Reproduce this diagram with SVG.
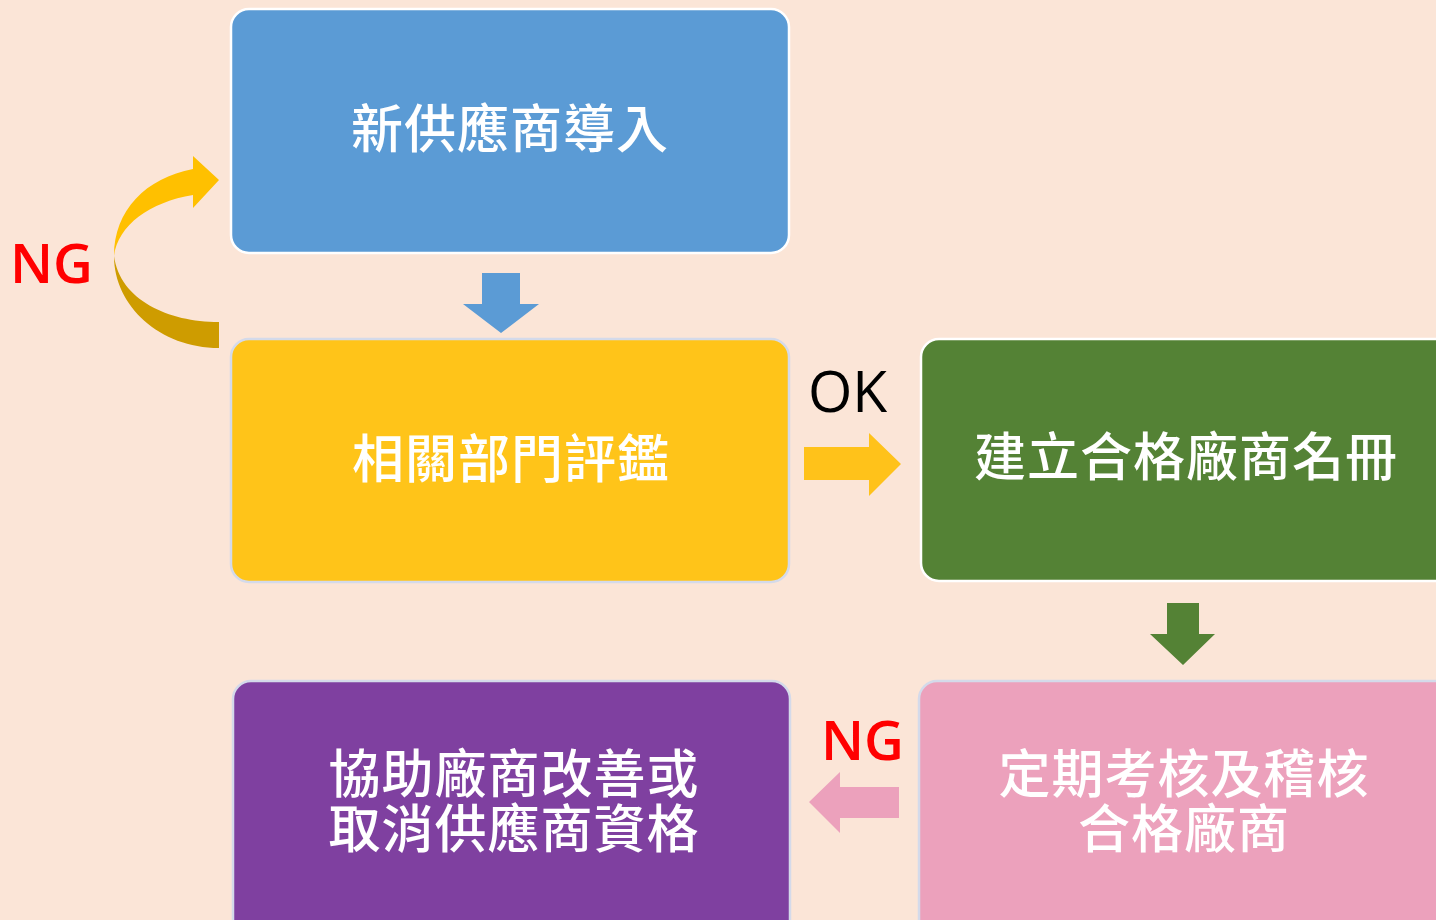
<svg xmlns="http://www.w3.org/2000/svg" width="1436" height="920" viewBox="0 0 1436 920">
<style>
.box{stroke-width:2.5}
.t{font-family:"Noto Sans CJK TC","Noto Sans CJK SC",sans-serif;font-size:52px;font-weight:500;fill:#ffffff;text-anchor:middle;letter-spacing:1px}
.lbl{font-family:"Open Sans","Noto Sans",sans-serif;font-size:57px;text-anchor:start}
.ng{font-weight:600;font-size:55px}
</style>
<rect x="0" y="0" width="1436" height="920" fill="#FBE5D7"/>
<g id="connectors">
<path d="M482,273 H520 V304 H539 L501,333 L463,304 H482 Z" fill="#5B9BD5"/>
<path d="M804,447 H869 V433 L901,464 L869,496 V480 H804 Z" fill="#FFC21A"/>
<path d="M1167,603 H1199 V634 H1215 L1183,665 L1150,634 H1167 Z" fill="#548235"/>
<path d="M899,787 V818 H840 V833 L809,802 L840,772 V787 Z" fill="#ECA1BC"/>
<path d="M114,256 C114,306 160,348 219,348 L219,322 C168,322 120,300 114,256 Z" fill="#CE9C00"/>
<path d="M114,256 C114,210 146,178 193,169 L193,156 L219,180 L193,208 L193,195 C150,202 118,225 114,256 Z" fill="#FFC000"/>
<text class="lbl ng" x="10" y="283" fill="#FF0000">NG</text>
<text class="lbl" x="808" y="412" fill="#000000">OK</text>
<text class="lbl ng" x="821" y="760" fill="#FF0000">NG</text>
</g>
<g id="n1">
<rect class="box" x="231" y="9" width="558" height="244" rx="18" fill="#5B9BD5" stroke="#ffffff"/>
<text class="t" x="510" y="148">新供應商導入</text>
</g>
<g id="n2">
<rect class="box" x="231" y="339" width="558" height="243" rx="18" fill="#FFC419" stroke="#D4DAEA"/>
<text class="t" x="511" y="478">相關部門評鑑</text>
</g>
<g id="n3">
<rect class="box" x="921" y="339" width="531" height="242" rx="18" fill="#548235" stroke="#ffffff"/>
<text class="t" x="1186" y="476">建立合格廠商名冊</text>
</g>
<g id="n4">
<rect class="box" x="919" y="681" width="533" height="260" rx="18" fill="#ECA1BC" stroke="#D4DAEA"/>
<text class="t" x="1184" y="793">定期考核及稽核</text>
<text class="t" x="1184" y="848">合格廠商</text>
</g>
<g id="n5">
<rect class="box" x="233" y="681" width="557" height="260" rx="18" fill="#7F40A0" stroke="#D4DAEA"/>
<text class="t" x="514" y="793">協助廠商改善或</text>
<text class="t" x="514" y="848">取消供應商資格</text>
</g>
</svg>
